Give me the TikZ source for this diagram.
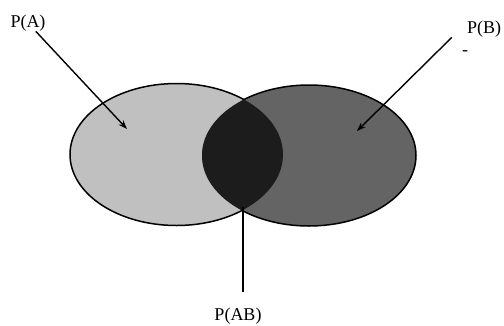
\documentclass[tikz,border=0pt]{standalone}
\usepackage{fontspec}
\setmainfont{Liberation Serif}
\usepackage{tikz}
\usetikzlibrary{arrows.meta}
\definecolor{setAColor}{RGB}{192,192,192}
\definecolor{setBColor}{RGB}{100,100,100}
\definecolor{meetColor}{RGB}{28,28,28}

\begin{document}
\begin{tikzpicture}[
    x=1pt, y=-1pt,
    label/.style={inner sep=0pt, font=\fontsize{18}{21}\selectfont},
    outline/.style={line width=1.5pt},
    arrow/.style={-{Stealth[length=9pt, width=6.5pt]}, line width=1.4pt},
    pointer/.style={line width=1.4pt}
]
    \useasboundingbox (0,0) rectangle (504,325);

    % Fills
    \fill[setAColor] (176.5,154.5) ellipse [x radius=106.5pt, y radius=71pt];
    \fill[setBColor] (309,155.5) ellipse [x radius=107pt, y radius=70.5pt];
    \begin{scope}
        \clip (176.5,154.5) ellipse [x radius=106.5pt, y radius=71pt];
        \fill[meetColor] (309,155.5) ellipse [x radius=107pt, y radius=70.5pt];
    \end{scope}

    % Outlines (outer boundary only)
    \begin{scope}[even odd rule]
        \clip (-20,-20) rectangle (540,360) (309,155.5) ellipse [x radius=107pt, y radius=70.5pt];
        \draw[outline] (176.5,154.5) ellipse [x radius=106.5pt, y radius=71pt];
    \end{scope}
    \begin{scope}[even odd rule]
        \clip (-20,-20) rectangle (540,360) (176.5,154.5) ellipse [x radius=106.5pt, y radius=71pt];
        \draw[outline] (309,155.5) ellipse [x radius=107pt, y radius=70.5pt];
    \end{scope}

    % Labels
    \node[label] (pa) at (28,23) {P(A)};
    \node[label] (pb) at (484,29) {P(B)};
    \node[label] (dash) at (465,53) {-};
    \node[label] (pab) at (238,316) {P(AB)};

    % Points inside the sets
    \coordinate (tipa) at (127,129);
    \coordinate (tipb) at (357,131);
    \coordinate (meet) at (243,207);

    % Arrows
    \draw[arrow] (pa) -- (tipa);
    \draw[arrow] ([xshift=-15pt]pb.south west) -- (tipb);
    \draw[pointer, shorten >=16pt] (meet) -- (meet |- pab.north);
\end{tikzpicture}
\end{document}
